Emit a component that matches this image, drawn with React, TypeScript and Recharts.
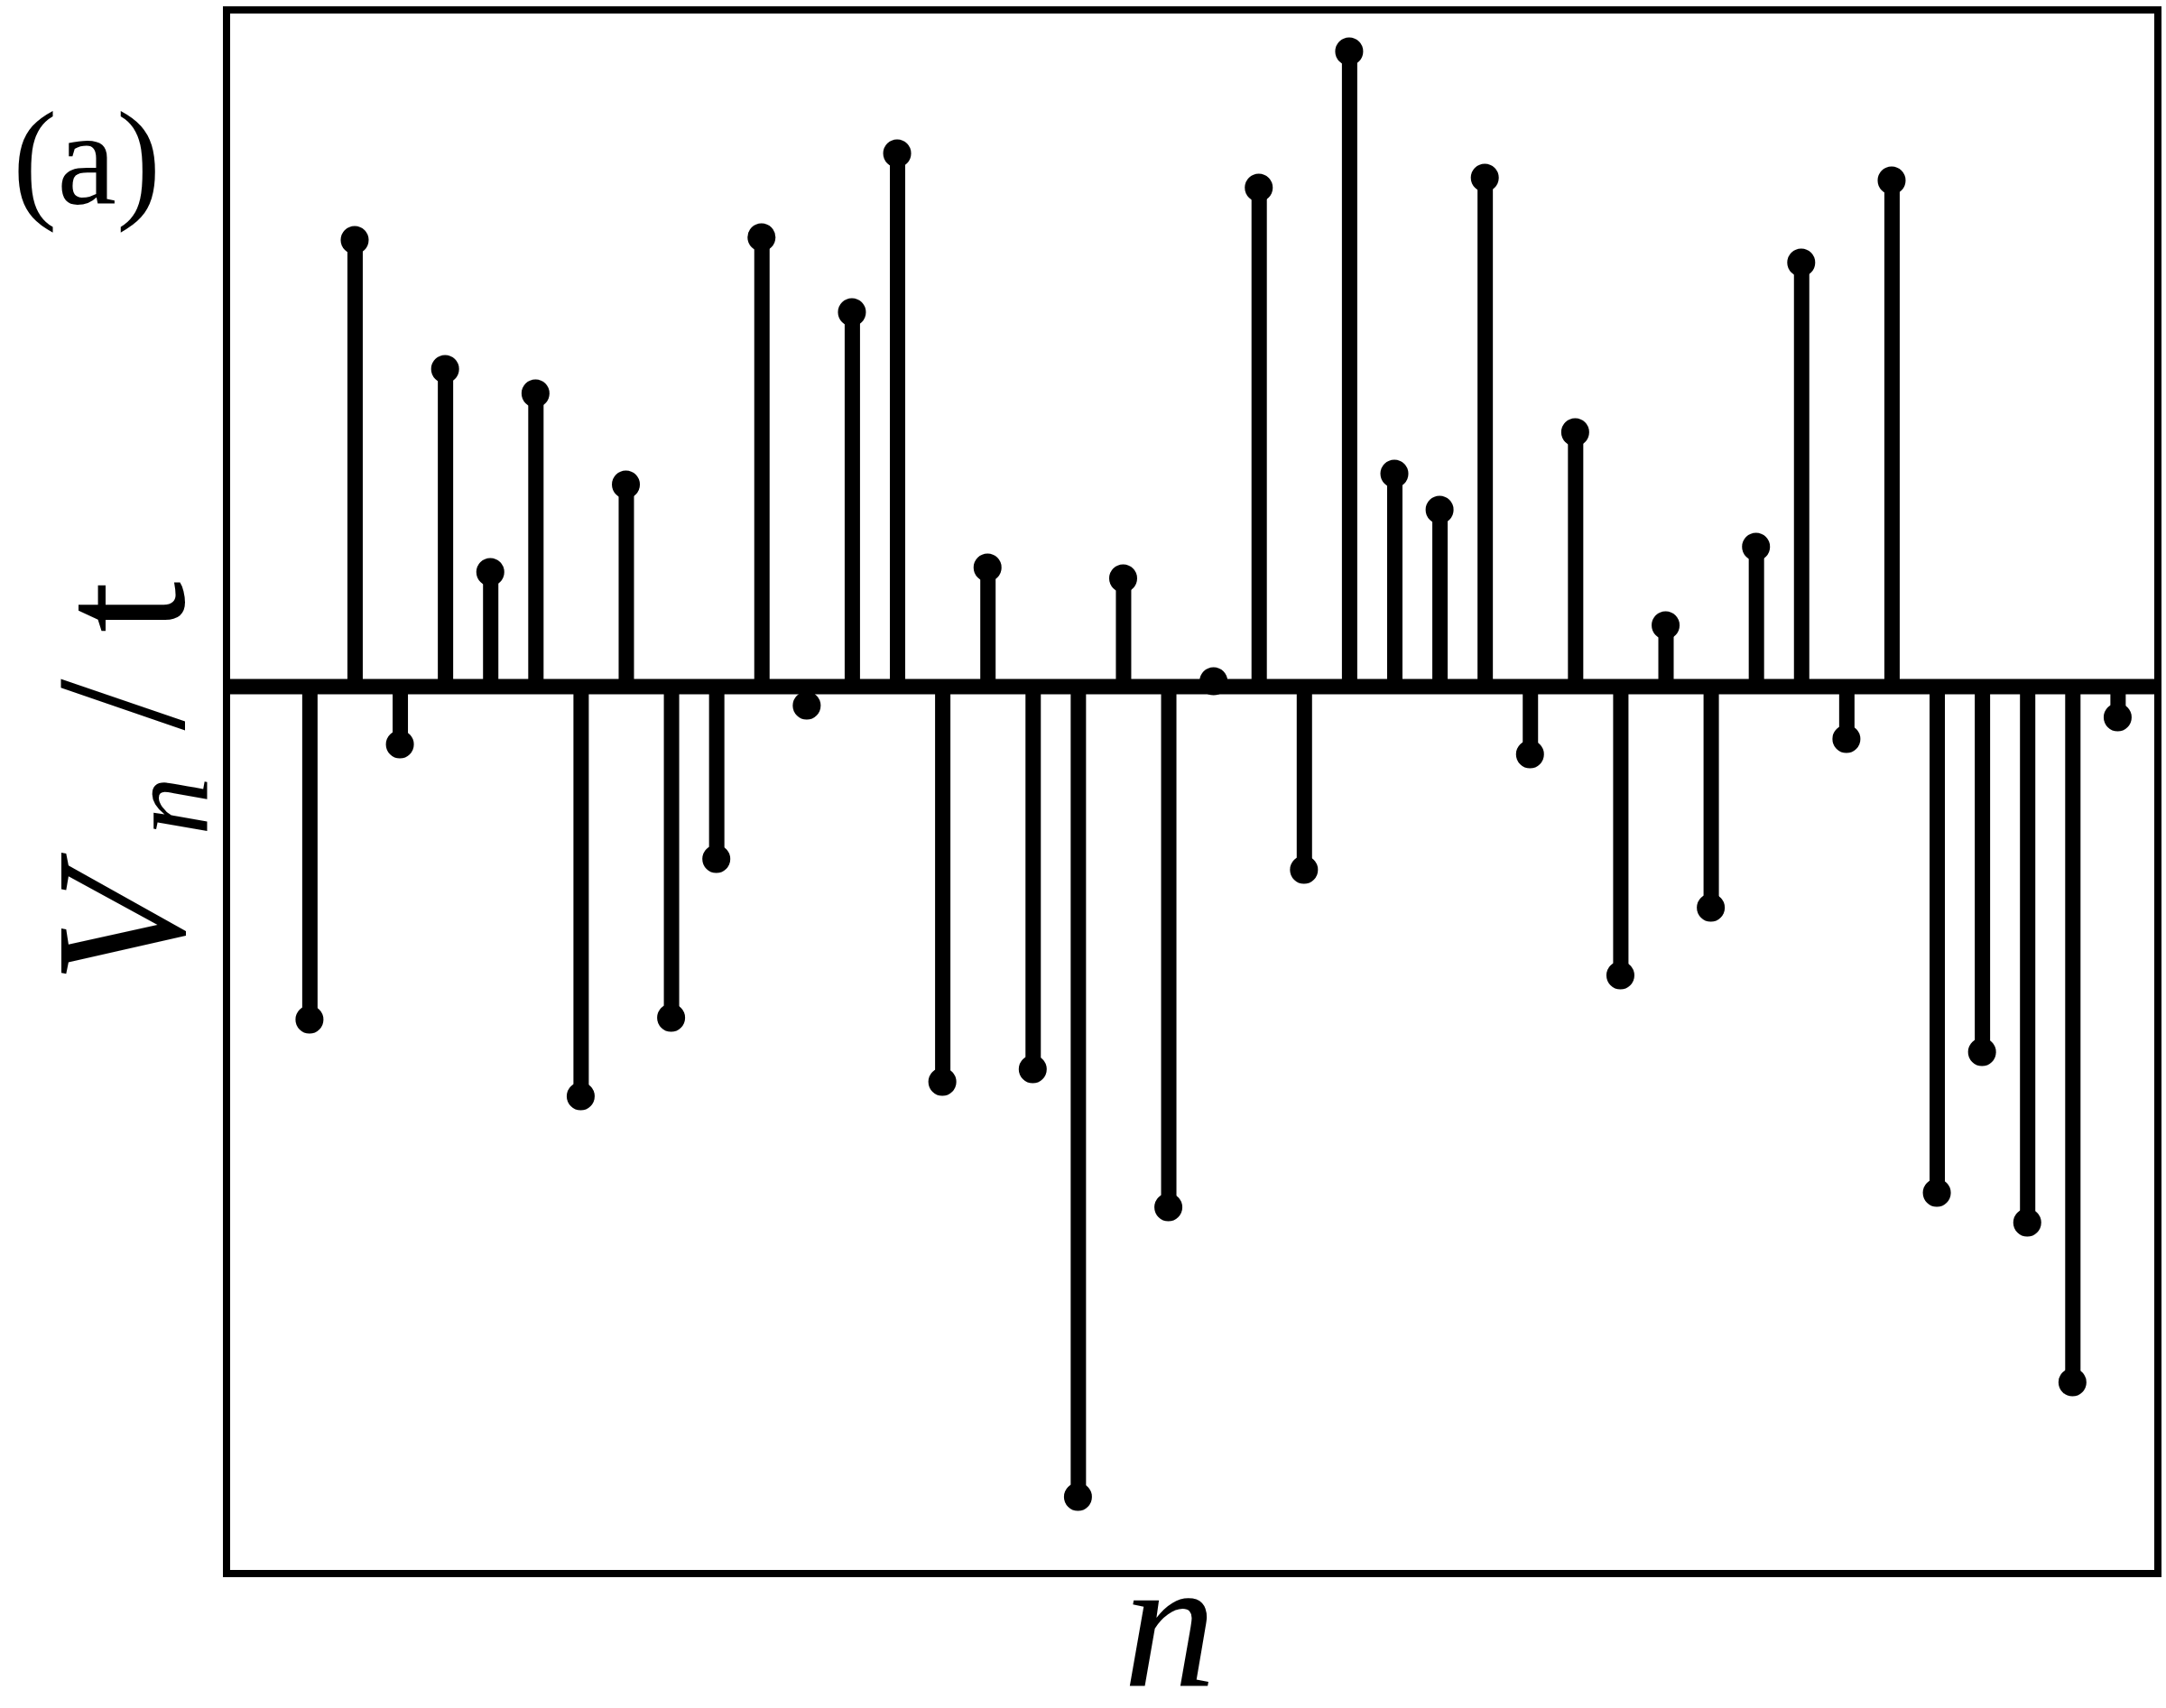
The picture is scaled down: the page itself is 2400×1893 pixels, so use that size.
import { ComposedChart, Bar, Line, XAxis, YAxis, ReferenceLine, ReferenceArea } from 'recharts';

// site index n
const SITES = [
  1, 2, 3, 4, 5, 6, 7, 8, 9, 10, 11, 12, 13, 14, 15, 16, 17, 18, 19, 20, 21,
  22, 23, 24, 25, 26, 27, 28, 29, 30, 31, 32, 33, 34, 35, 36, 37, 38, 39, 40, 41,
];

// on-site potential V_n / t
const POTENTIAL = [
  -3.69, 4.95, -0.64, 3.52, 1.27, 3.25, -4.54, 2.24, -3.67, -1.91, 4.98,
  -0.21, 4.15, 5.91, -4.38, 1.32, -4.24, -8.98, 1.2, -5.77, 0.06, 5.53,
  -2.03, 7.04, 2.36, 1.96, 5.64, -0.75, 2.82, -3.2, 0.68, -2.45, 1.55, 4.7,
  -0.58, 5.61, -5.61, -4.05, -5.94, -7.71, -0.34,
];

const X_DOMAIN = [-0.835, 41.89];
const Y_DOMAIN = [-9.83, 7.5];

const W = 2400;
const H = 1893;
const SERIF = "'Liberation Serif', 'DejaVu Serif', serif";

const data = SITES.map((n, i) => ({ n, v: POTENTIAL[i] }));

export default function App() {
  return (
    <div style={{ position: 'absolute', left: 0, top: 0, width: W, height: H, background: '#fff' }}>
      <ComposedChart
        width={W}
        height={H}
        data={data}
        margin={{ top: 11, right: 9, bottom: 149, left: 251 }}
      >
        <XAxis type="number" dataKey="n" domain={X_DOMAIN} hide />
        <YAxis type="number" domain={Y_DOMAIN} hide allowDataOverflow />
        <ReferenceLine y={0} stroke="#000" strokeWidth={17} />
        {/* stems */}
        <Bar dataKey="v" fill="#000" barSize={17} isAnimationActive={false} />
        {/* heads */}
        <Line
          dataKey="v"
          stroke="none"
          dot={{ r: 15.5, fill: '#000', stroke: 'none' }}
          activeDot={false}
          isAnimationActive={false}
        />
        <ReferenceArea
          x1={X_DOMAIN[0]}
          x2={X_DOMAIN[1]}
          y1={Y_DOMAIN[0]}
          y2={Y_DOMAIN[1]}
          fill="none"
          fillOpacity={0}
          stroke="#000"
          strokeWidth={8}
          ifOverflow="visible"
        />
      </ComposedChart>
      <svg
        width={W}
        height={H}
        style={{ position: 'absolute', left: 0, top: 0, pointerEvents: 'none' }}
      >
        <text x={14} y={226} fontFamily={SERIF} fontSize={148} fill="#000">
          (a)
        </text>
        <text transform="translate(203,1090) rotate(-90)" fontFamily={SERIF} fontSize={205} fill="#000">
          <tspan fontStyle="italic">V</tspan>
          <tspan fontStyle="italic" fontSize={130} dx={39} dy={27}>n</tspan>
          <tspan dy={-27}> / t</tspan>
        </text>
        <text
          x={1296}
          y={1868}
          textAnchor="middle"
          fontFamily={SERIF}
          fontStyle="italic"
          fontSize={206}
          fill="#000"
        >
          n
        </text>
      </svg>
    </div>
  );
}
